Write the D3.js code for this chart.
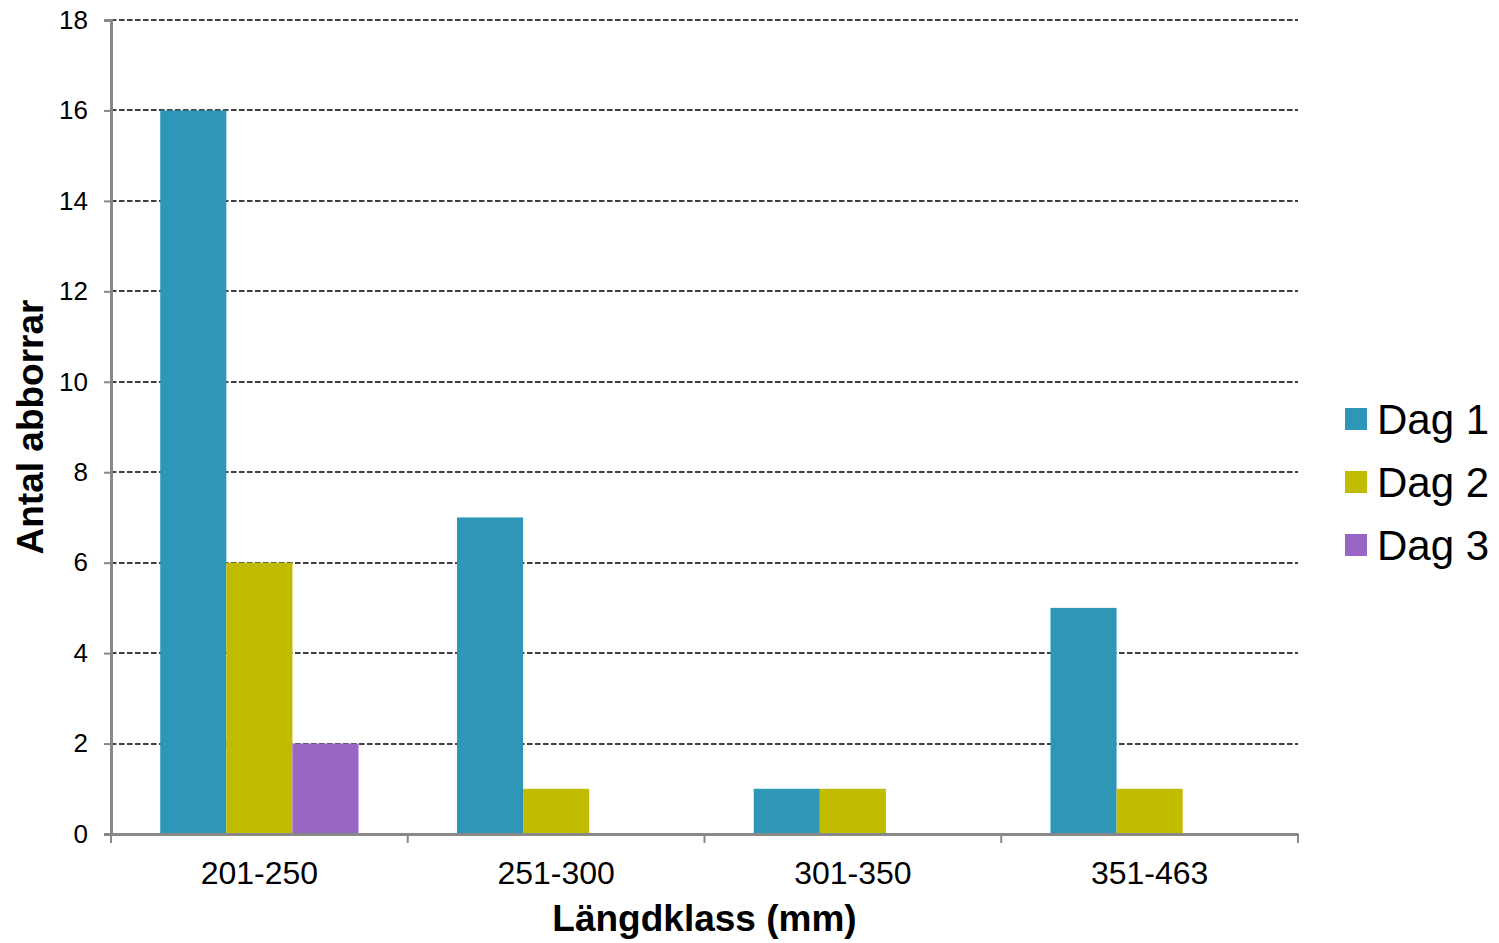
<!DOCTYPE html>
<html><head><meta charset="utf-8">
<script src="https://cdn.jsdelivr.net/npm/d3@7"></script>
<style>
html,body{margin:0;padding:0;background:#fff;}
svg{display:block;font-family:"Liberation Sans",Arial,sans-serif;}
</style></head>
<body>
<svg id="chart" width="1499" height="943"></svg>
<script>
const categories = ["201-250","251-300","301-350","351-463"];
const seriesNames = ["Dag 1","Dag 2","Dag 3"];
const dag1 = [16,7,1,5];
const dag2 = [6,1,1,1];
const dag3 = [2,0,0,0];
const yTicks = [0,2,4,6,8,10,12,14,16,18];
const colors = ["#2e96b6","#c2bc00","#9966c6"];
const seriesValues = [dag1,dag2,dag3];

(function(){
const svg = d3.select("#chart");
const pLeft=111, pRight=1298, pTop=20, pBottom=834;

const x0 = d3.scaleBand().domain(categories).range([pLeft,pRight]).padding(0);
const x1 = d3.scaleBand().domain(seriesNames).range([0,x0.bandwidth()]).paddingInner(0).paddingOuter(0.745);
const y = d3.scaleLinear().domain([0,18]).range([pBottom,pTop]);

// gridlines
svg.append("g").selectAll("line").data(yTicks.filter(d=>d>0)).join("line")
  .attr("x1",pLeft).attr("x2",pRight)
  .attr("y1",d=>Math.round(y(d))).attr("y2",d=>Math.round(y(d)))
  .attr("stroke","#000").attr("stroke-width",1.6).attr("stroke-dasharray","5.5,2.5");

// bars
const g = svg.append("g");
seriesValues.forEach((vals,si)=>{
  g.selectAll(null).data(vals.map((v,i)=>({c:categories[i],v})).filter(d=>d.v>0)).join("rect")
    .attr("x",d=>x0(d.c)+x1(seriesNames[si]))
    .attr("width",x1.bandwidth())
    .attr("y",d=>y(d.v))
    .attr("height",d=>y(0)-y(d.v))
    .attr("fill",colors[si]);
});

// y axis
const yAxis = d3.axisLeft(y).tickValues(yTicks).tickSize(7).tickPadding(16).tickFormat(d3.format("d"));
const ya = svg.append("g").attr("transform",`translate(${pLeft},0)`).call(yAxis);
ya.select(".domain").attr("stroke","#888").attr("stroke-width",3);
ya.selectAll(".tick line").attr("stroke","#888").attr("stroke-width",2);
ya.selectAll(".tick text").attr("font-size",26).attr("fill","#000").attr("font-family","Liberation Sans, Arial, sans-serif");

// x axis
const xAxis = d3.axisBottom(x0).tickSize(0).tickPadding(27);
const xa = svg.append("g").attr("transform",`translate(0,${pBottom})`).call(xAxis);
xa.select(".domain").attr("stroke","#888").attr("stroke-width",3);
xa.selectAll(".tick text").attr("font-size",32).attr("fill","#000").attr("font-family","Liberation Sans, Arial, sans-serif");
// category boundary ticks
const bounds = categories.map(c=>x0(c)).concat([pRight]);
svg.append("g").selectAll("line").data(bounds).join("line")
  .attr("x1",d=>d).attr("x2",d=>d).attr("y1",pBottom).attr("y2",pBottom+9)
  .attr("stroke","#888").attr("stroke-width",2);

// axis titles
svg.append("text").attr("x",(pLeft+pRight)/2).attr("y",931).attr("text-anchor","middle")
  .attr("font-size",37).attr("font-weight","bold").text("Längdklass (mm)");
svg.append("text").attr("transform",`translate(43,${(pTop+pBottom)/2}) rotate(-90)`).attr("text-anchor","middle")
  .attr("font-size",37).attr("font-weight","bold").text("Antal abborrar");

// legend
const lg = svg.append("g");
seriesNames.forEach((n,i)=>{
  const cy = 419 + i*63;
  lg.append("rect").attr("x",1345).attr("y",cy-11).attr("width",22).attr("height",22).attr("fill",colors[i]);
  lg.append("text").attr("x",1377).attr("y",cy+15).attr("font-size",42).attr("fill","#000").text(n);
});
})();
</script>
</body></html>
